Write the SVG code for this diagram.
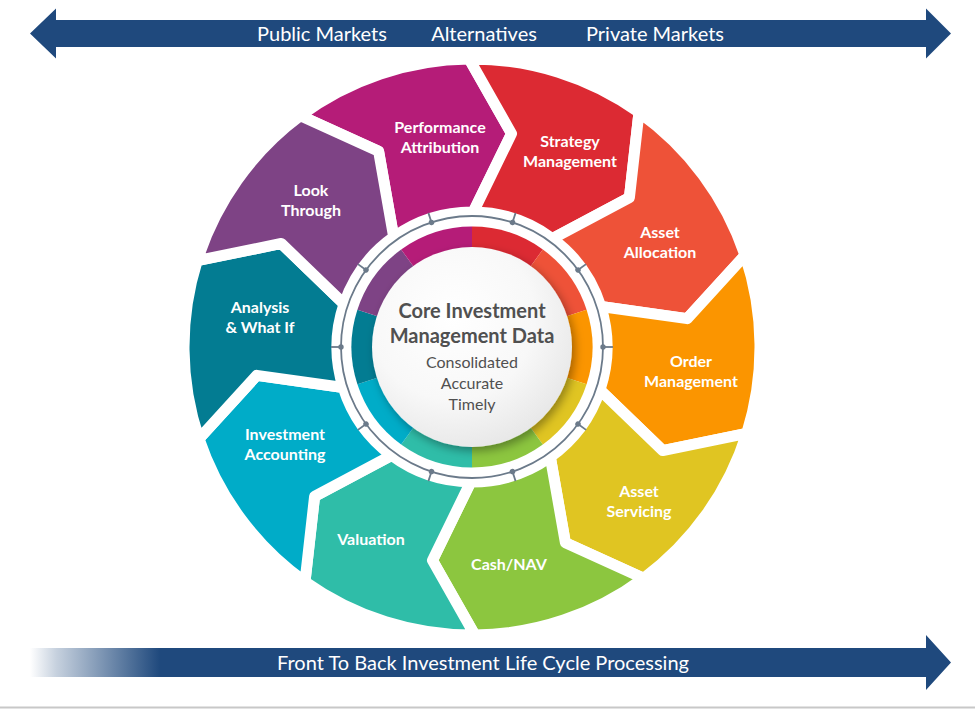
<svg xmlns="http://www.w3.org/2000/svg" xmlns:xlink="http://www.w3.org/1999/xlink" width="975" height="709" viewBox="0 0 975 709">
<style>
.seg{stroke:#ffffff;stroke-width:11;stroke-linejoin:round}
.lbl{font-family:Lato,"Open Sans","Liberation Sans",sans-serif;font-weight:bold;font-size:16px;fill:#ffffff;text-anchor:middle}
.band{font-family:Lato,"Open Sans","Liberation Sans",sans-serif;font-size:20px;fill:#ffffff;text-anchor:middle}
.core{font-family:Lato,"Open Sans","Liberation Sans",sans-serif;fill:#505050;text-anchor:middle}
.tick line{stroke:#6b7a8a;stroke-width:1.8}
.tick circle{fill:#6b7a8a}
</style>
<defs>
<path id="chev" d="M273.02,-91.67 A288,288 0 0,1 274.76,86.31 L190.70,103.54 L127.99,42.95 A135,135 0 0,0 128.79,-40.48 L215.14,-28.33 Z"/>
<path id="wedge" d="M0,0 L120.5,0 A120.5,120.5 0 0,1 97.49,70.83 Z"/>
<g id="tk" class="tick"><line x1="131" y1="0" x2="141" y2="0"/><circle cx="131" cy="0" r="2.7"/></g>
<linearGradient id="fade" gradientUnits="userSpaceOnUse" x1="30" y1="0" x2="160" y2="0">
<stop offset="0" stop-color="#1f497d" stop-opacity="0"/>
<stop offset="0.2" stop-color="#1f497d" stop-opacity="0.25"/>
<stop offset="1" stop-color="#1f497d" stop-opacity="1"/>
</linearGradient>
<radialGradient id="disc" cx="0.4" cy="0.35" r="0.75">
<stop offset="0" stop-color="#ffffff"/>
<stop offset="0.55" stop-color="#f8f8f8"/>
<stop offset="1" stop-color="#e3e3e3"/>
</radialGradient>
<filter id="sh" x="-30%" y="-30%" width="160%" height="160%">
<feDropShadow dx="3" dy="4" stdDeviation="5" flood-color="#000000" flood-opacity="0.35"/>
</filter>
</defs>

<rect width="975" height="709" fill="#ffffff"/>
<line x1="0" y1="707.5" x2="975" y2="707.5" stroke="#c8c8c8" stroke-width="2"/>

<g id="top-arrow">
<path d="M30,33.5 L56,8.5 L56,20 L926,20 L926,8.5 L951,33.5 L926,58.5 L926,47 L56,47 L56,58.5 Z" fill="#1f497d"/>
<text class="band" x="322" y="40.5">Public Markets</text>
<text class="band" x="484" y="40.5">Alternatives</text>
<text class="band" x="655" y="40.5">Private Markets</text>
</g>

<g id="bottom-arrow">
<path d="M30,648 L926,648 L926,635 L951,662.5 L926,690 L926,677 L30,677 Z" fill="url(#fade)"/>
<text class="band" x="483" y="669.5">Front To Back Investment Life Cycle Processing</text>
</g>

<g id="seg-performance-attribution">
<use href="#chev" class="seg" fill="#b51c78" transform="translate(472 347) rotate(-108)"/>
<text class="lbl" x="440" y="133">Performance</text>
<text class="lbl" x="440" y="153">Attribution</text>
</g>
<g id="seg-strategy-management">
<use href="#chev" class="seg" fill="#dc2a33" transform="translate(472 347) rotate(-72)"/>
<text class="lbl" x="570" y="147">Strategy</text>
<text class="lbl" x="570" y="167">Management</text>
</g>
<g id="seg-asset-allocation">
<use href="#chev" class="seg" fill="#ee5238" transform="translate(472 347) rotate(-36)"/>
<text class="lbl" x="660" y="238">Asset</text>
<text class="lbl" x="660" y="258">Allocation</text>
</g>
<g id="seg-order-management">
<use href="#chev" class="seg" fill="#fb9500" transform="translate(472 347) rotate(0)"/>
<text class="lbl" x="691" y="367">Order</text>
<text class="lbl" x="691" y="387">Management</text>
</g>
<g id="seg-asset-servicing">
<use href="#chev" class="seg" fill="#e0c522" transform="translate(472 347) rotate(36)"/>
<text class="lbl" x="639" y="497">Asset</text>
<text class="lbl" x="639" y="517">Servicing</text>
</g>
<g id="seg-cash-nav">
<use href="#chev" class="seg" fill="#8cc63f" transform="translate(472 347) rotate(72)"/>
<text class="lbl" x="509" y="570">Cash/NAV</text>
</g>
<g id="seg-valuation">
<use href="#chev" class="seg" fill="#2fbda8" transform="translate(472 347) rotate(108)"/>
<text class="lbl" x="371" y="545">Valuation</text>
</g>
<g id="seg-investment-accounting">
<use href="#chev" class="seg" fill="#00acc8" transform="translate(472 347) rotate(144)"/>
<text class="lbl" x="285" y="440">Investment</text>
<text class="lbl" x="285" y="460">Accounting</text>
</g>
<g id="seg-analysis-what-if">
<use href="#chev" class="seg" fill="#037c92" transform="translate(472 347) rotate(180)"/>
<text class="lbl" x="260" y="313">Analysis</text>
<text class="lbl" x="260" y="333">&amp; What If</text>
</g>
<g id="seg-look-through">
<use href="#chev" class="seg" fill="#7e4385" transform="translate(472 347) rotate(216)"/>
<text class="lbl" x="311" y="196">Look</text>
<text class="lbl" x="311" y="216">Through</text>
</g>

<g id="connectors" transform="translate(472 347)">
<circle cx="0" cy="0" r="131" fill="none" stroke="#6b7a8a" stroke-width="1.8"/>
<use href="#tk" transform="rotate(-108)"/>
<use href="#tk" transform="rotate(-72)"/>
<use href="#tk" transform="rotate(-36)"/>
<use href="#tk" transform="rotate(0)"/>
<use href="#tk" transform="rotate(36)"/>
<use href="#tk" transform="rotate(72)"/>
<use href="#tk" transform="rotate(108)"/>
<use href="#tk" transform="rotate(144)"/>
<use href="#tk" transform="rotate(180)"/>
<use href="#tk" transform="rotate(216)"/>
</g>

<g id="core">
<g transform="translate(472 347)">
<use href="#wedge" fill="#dc2a33" transform="rotate(-90)"/>
<use href="#wedge" fill="#ee5238" transform="rotate(-54)"/>
<use href="#wedge" fill="#fb9500" transform="rotate(-18)"/>
<use href="#wedge" fill="#e0c522" transform="rotate(18)"/>
<use href="#wedge" fill="#8cc63f" transform="rotate(54)"/>
<use href="#wedge" fill="#2fbda8" transform="rotate(90)"/>
<use href="#wedge" fill="#00acc8" transform="rotate(126)"/>
<use href="#wedge" fill="#037c92" transform="rotate(162)"/>
<use href="#wedge" fill="#7e4385" transform="rotate(198)"/>
<use href="#wedge" fill="#b51c78" transform="rotate(234)"/>
<circle cx="0" cy="0" r="100" fill="url(#disc)" filter="url(#sh)"/>
</g>
<text class="core" x="472" y="318" font-size="20" font-weight="bold">Core Investment</text>
<text class="core" x="472" y="343" font-size="20" font-weight="bold">Management Data</text>
<text class="core" x="472" y="368" font-size="16">Consolidated</text>
<text class="core" x="472" y="389" font-size="16">Accurate</text>
<text class="core" x="472" y="410" font-size="16">Timely</text>
</g>
</svg>
